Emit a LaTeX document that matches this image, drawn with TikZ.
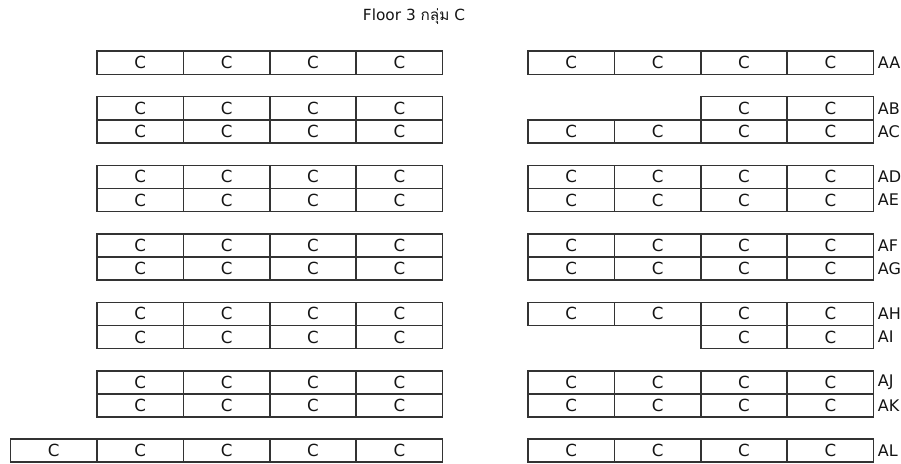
\documentclass[tikz,border=0pt]{standalone}
\usepackage{fontspec}
\setmainfont{DejaVu Sans}
\newfontfamily\thaifont[Script=Thai]{Loma}
\usetikzlibrary{positioning}
\definecolor{cline}{HTML}{333333}
\definecolor{ctext}{HTML}{141414}
\tikzset{
  seat/.style={draw=cline, line width=1.1pt, minimum width=64.8pt,
               minimum height=17.4pt, inner sep=0pt, text=ctext,
               font=\fontsize{12.5}{13}\selectfont},
  rowlab/.style={anchor=west, inner sep=0pt, text=ctext,
                 font=\fontsize{12}{13}\selectfont},
  ftitle/.style={text=ctext, inner sep=0pt, font=\fontsize{11.5}{12}\selectfont},
}
\begin{document}
\begin{tikzpicture}[x=0.75pt, y=-0.75pt]
  \useasboundingbox (0,0) rectangle (901,464);
  \node[ftitle] (title) at (414,17) {Floor 3 {\thaifont กลุ่ม} C};
  % left block: every row full
  \foreach \r/\yc in {AA/62.75, AB/108.25, AC/131.5, AD/176.9, AE/200.1,
                      AF/245.4, AG/268.6, AH/313.9, AI/337.1,
                      AJ/382.4, AK/405.6, AL/450.5}{
    \foreach \c in {1,...,4}
      \node[seat] (L-\r-\c) at ({97+86.4*(\c-0.5)},\yc) {C};
  }
  \node[seat] (L-AL-0) at (53.8,450.5) {C};
  % right block: first seat of each row, then its label
  \foreach \r/\yc/\first in {AA/62.75/1, AB/108.25/3, AC/131.5/1,
                             AD/176.9/1, AE/200.1/1, AF/245.4/1,
                             AG/268.6/1, AH/313.9/1, AI/337.1/3,
                             AJ/382.4/1, AK/405.6/1, AL/450.5/1}{
    \foreach \c in {\first,...,4}
      \node[seat] (R-\r-\c) at ({528+86.4*(\c-0.5)},\yc) {C};
    \node[rowlab, right=2.5pt of R-\r-4] (lab-\r) {\r};
  }
\end{tikzpicture}
\end{document}
